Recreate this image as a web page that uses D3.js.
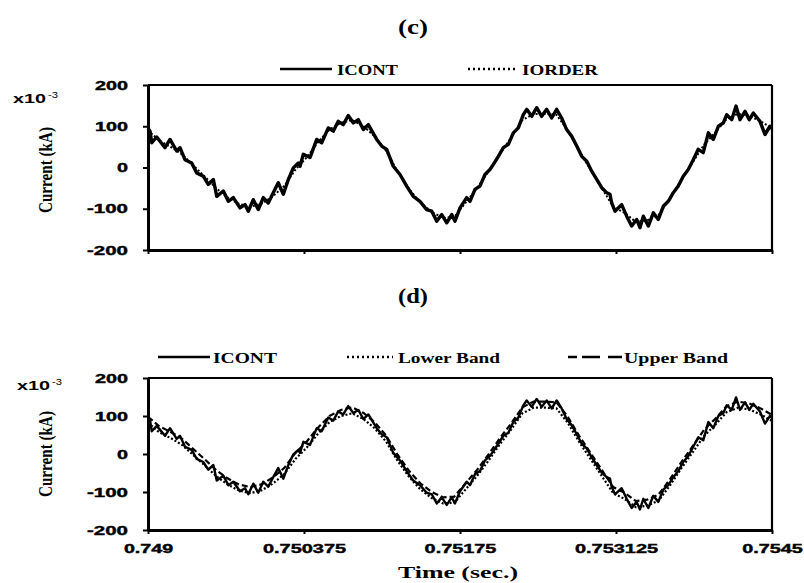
<!DOCTYPE html>
<html><head><meta charset="utf-8">
<script src="https://cdn.jsdelivr.net/npm/d3@7/dist/d3.min.js"></script>
<style>html,body{margin:0;padding:0;background:#fff;}svg{display:block;}</style>
</head><body>
<svg id="chart" width="804" height="583"></svg>
<script>
// ---- data (time in ms, current in x10^-3 kA) ----
const icontT = [749.000,749.018,749.033,749.077,749.150,749.194,749.253,749.282,749.326,749.385,
749.429,749.487,749.531,749.576,749.606,749.664,749.708,749.752,749.811,749.855,
749.884,749.928,749.972,750.016,750.060,750.104,750.148,750.193,750.237,750.281,
750.325,750.340,750.369,750.428,750.487,750.531,750.589,750.633,750.677,750.721,
750.765,750.810,750.854,750.898,750.942,751.016,751.060,751.104,751.162,751.221,
751.280,751.338,751.397,751.456,751.501,751.545,751.589,751.633,751.677,751.706,
751.750,751.809,751.838,751.882,751.926,751.970,752.014,752.043,752.088,752.132,
752.176,752.220,752.264,752.308,752.338,752.382,752.426,752.470,752.514,752.558,
752.602,752.646,752.690,752.734,752.779,752.823,752.867,752.911,752.955,752.999,
753.043,753.072,753.087,753.116,753.175,753.219,753.263,753.307,753.336,753.366,
753.410,753.454,753.498,753.542,753.586,753.630,753.674,753.718,753.762,753.806,
753.850,753.894,753.939,753.983,754.027,754.071,754.101,754.145,754.183,754.218,
754.262,754.300,754.335,754.394,754.438,754.482,754.500];
const icontV = [95,88,60,74,48,68,40,48,19,11,
-13,-21,-41,-29,-70,-57,-82,-73,-98,-90,
-106,-78,-102,-73,-86,-61,-37,-65,-29,-1,
11,3,32,24,68,60,96,88,112,104,
126,108,116,92,104,68,52,44,3,-17,
-45,-70,-82,-102,-106,-130,-114,-134,-114,-130,
-98,-73,-82,-53,-45,-17,-5,7,27,48,
56,84,96,128,141,124,145,124,141,120,
141,120,92,76,52,27,15,-9,-29,-49,
-61,-65,-86,-106,-90,-118,-142,-126,-146,-118,
-142,-110,-126,-94,-82,-61,-45,-21,-5,19,
44,36,84,68,100,108,128,116,149,116,
136,116,132,112,80,100,95];
const orderT = [749.0,749.1,749.2,749.3,749.4,749.5,749.6,749.7,749.8,749.9,
750.0,750.1,750.2,750.3,750.4,750.5,750.6,750.7,750.8,750.9,
751.0,751.1,751.2,751.3,751.4,751.5,751.6,751.7,751.8,751.9,
752.0,752.1,752.2,752.3,752.4,752.5,752.6,752.7,752.8,752.9,
753.0,753.1,753.2,753.3,753.4,753.5,753.6,753.7,753.8,753.9,
754.0,754.1,754.2,754.3,754.4,754.5];
const iorderV = [90,65,50,32,5,-22,-50,-72,-88,-95,
-88,-70,-45,-5,25,62,92,108,115,100,
75,40,-10,-52,-85,-108,-122,-120,-85,-50,
-10,33,72,115,130,130,128,90,40,-5,
-50,-95,-110,-132,-128,-115,-75,-30,12,55,
85,118,130,125,112,95];
const lowerV = [82,57,42,24,-3,-30,-58,-80,-96,-103,
-96,-78,-53,-13,17,54,84,100,107,92,
67,32,-18,-60,-93,-116,-130,-128,-93,-58,
-18,25,64,107,122,122,120,82,32,-13,
-58,-103,-118,-140,-136,-123,-83,-38,4,47,
77,110,122,117,104,87];
const upperV = [98,73,58,40,13,-14,-42,-64,-80,-87,
-80,-62,-37,3,33,70,100,116,123,108,
83,48,-2,-44,-77,-100,-114,-112,-77,-42,
-2,41,80,123,138,138,136,98,48,3,
-42,-87,-102,-124,-120,-107,-67,-22,20,63,
93,126,138,133,120,103];
const xTickVals = [0.749, 0.750375, 0.75175, 0.753125, 0.7545];
const xTickLabels = ["0.749", "0.750375", "0.75175", "0.753125", "0.7545"];
const yTickVals = [-200, -100, 0, 100, 200];
const yTickLabels = ["-200", "-100", "0", "100", "200"];

// ---- drawing ----
const svg = d3.select("#chart");
const SERIF = "'Liberation Serif','Times New Roman',serif";
const SANS = "'Liberation Sans',Arial,sans-serif";

const x = d3.scaleLinear().domain([0.749, 0.7545]).range([148, 772]);
const panels = [
  {id: "c", top: 85, bottom: 250, labels: false, title: "(c)", titleY: 34,
   legendY: 70, yLabelY: 170, expY: 103},
  {id: "d", top: 378, bottom: 530, labels: true, title: "(d)", titleY: 303,
   legendY: 358, yLabelY: 454, expY: 390}
];

function labelWidth(s, digit) {
  let w = 0;
  for (const ch of s) w += (ch === "-") ? 8 : (ch === ".") ? 4 : digit;
  return w;
}

const ptsC = icontT.map((t, i) => [t / 1000, icontV[i]]);
const ptsO = orderT.map((t, i) => [t / 1000, iorderV[i]]);
const ptsL = orderT.map((t, i) => [t / 1000, lowerV[i]]);
const ptsU = orderT.map((t, i) => [t / 1000, upperV[i]]);

panels.forEach(p => {
  const y = d3.scaleLinear().domain([-200, 200]).range([p.bottom, p.top]);
  const g = svg.append("g");
  const line = d3.line().x(d => x(d[0])).y(d => y(d[1]));

  // title
  g.append("text").attr("x", 413).attr("y", p.titleY).attr("text-anchor", "middle")
    .attr("font-family", SERIF).attr("font-weight", "bold").attr("font-size", 21)
    .attr("textLength", 30).attr("lengthAdjust", "spacingAndGlyphs").text(p.title);

  // frame top / right
  g.append("line").attr("x1", x.range()[0]).attr("x2", x.range()[1])
    .attr("y1", y(200)).attr("y2", y(200)).attr("stroke", "#000").attr("stroke-width", 2.2);
  g.append("line").attr("x1", x.range()[1]).attr("x2", x.range()[1])
    .attr("y1", y(200)).attr("y2", y(-200)).attr("stroke", "#000").attr("stroke-width", 2.2);

  // series
  if (p.id === "c") {
    g.append("path").datum(ptsO).attr("d", line).attr("fill", "none")
      .attr("stroke", "#000").attr("stroke-width", 2).attr("stroke-dasharray", "2,2");
    g.append("path").datum(ptsC).attr("d", line).attr("fill", "none")
      .attr("stroke", "#000").attr("stroke-width", 3.4).attr("stroke-linejoin", "round");
  } else {
    g.append("path").datum(ptsC).attr("d", line).attr("fill", "none")
      .attr("stroke", "#000").attr("stroke-width", 2.4).attr("stroke-linejoin", "round");
    g.append("path").datum(ptsL).attr("d", line).attr("fill", "none")
      .attr("stroke", "#000").attr("stroke-width", 2.2).attr("stroke-dasharray", "2,2");
    g.append("path").datum(ptsU).attr("d", line).attr("fill", "none")
      .attr("stroke", "#000").attr("stroke-width", 2.2).attr("stroke-dasharray", "6,3");
  }

  // left axis
  const ya = g.append("g").attr("transform", `translate(${x.range()[0]},0)`)
    .call(d3.axisLeft(y).tickValues(yTickVals).tickSize(5).tickPadding(15).tickSizeOuter(0)
      .tickFormat((d, i) => yTickLabels[i]));
  ya.select(".domain").attr("stroke-width", 3);
  ya.selectAll(".tick line").attr("stroke-width", 2);
  ya.selectAll(".tick text").attr("font-family", SANS).attr("font-weight", "bold")
    .attr("font-size", 12.5).attr("fill", "#000").attr("stroke", "#000").attr("stroke-width", 0.4)
    .attr("textLength", function () { return labelWidth(this.textContent, 11); })
    .attr("lengthAdjust", "spacingAndGlyphs");

  // bottom axis
  const xa = g.append("g").attr("transform", `translate(0,${p.bottom})`)
    .call(d3.axisBottom(x).tickValues(xTickVals).tickSize(4).tickSizeOuter(0)
      .tickFormat((d, i) => p.labels ? xTickLabels[i] : ""));
  xa.select(".domain").attr("stroke-width", 3);
  xa.selectAll(".tick line").attr("stroke-width", 2);
  xa.selectAll(".tick text").attr("font-family", SANS).attr("font-weight", "bold")
    .attr("font-size", 12.5).attr("fill", "#000").attr("stroke", "#000").attr("stroke-width", 0.4)
    .attr("y", 23).attr("dy", 0)
    .each(function () {
      if (this.textContent) d3.select(this)
        .attr("textLength", labelWidth(this.textContent, 11.3))
        .attr("lengthAdjust", "spacingAndGlyphs");
    });

  // y label
  g.append("text").attr("transform", `translate(52,${p.yLabelY}) rotate(-90)`)
    .attr("text-anchor", "middle").attr("font-family", SERIF).attr("font-weight", "bold")
    .attr("font-size", 18).attr("textLength", 86).attr("lengthAdjust", "spacingAndGlyphs")
    .text("Current (kA)");
  const ex = p.id === "c" ? 13 : 17;
  g.append("text").attr("x", ex).attr("y", p.expY).attr("font-family", SANS)
    .attr("font-weight", "bold").attr("font-size", 12).attr("textLength", 33)
    .attr("lengthAdjust", "spacingAndGlyphs").text("x10");
  g.append("text").attr("x", ex + 35).attr("y", p.expY - 5).attr("font-family", SANS)
    .attr("font-size", 9).attr("textLength", 10)
    .attr("lengthAdjust", "spacingAndGlyphs").text("-3");

  // legend
  const leg = p.id === "c"
    ? [{x1: 280, x2: 332, dash: null, tx: 337, label: "ICONT", w: 61},
       {x1: 468, x2: 518, dash: "2,3", tx: 522, label: "IORDER", w: 76}]
    : [{x1: 158, x2: 210, dash: null, tx: 213, label: "ICONT", w: 64},
       {x1: 347, x2: 393, dash: "2,3", tx: 398, label: "Lower Band", w: 102},
       {x1: 568, x2: 622, dash: "9 5 18 8 14", tx: 624, label: "Upper Band", w: 104}];
  leg.forEach(l => {
    g.append("line").attr("x1", l.x1).attr("x2", l.x2).attr("y1", p.legendY - 1).attr("y2", p.legendY - 1)
      .attr("stroke", "#000").attr("stroke-width", 2.4).attr("stroke-dasharray", l.dash);
    g.append("text").attr("x", l.tx).attr("y", p.legendY + 5).attr("font-family", SERIF)
      .attr("font-weight", "bold").attr("font-size", 15).attr("textLength", l.w)
      .attr("lengthAdjust", "spacingAndGlyphs").text(l.label);
  });
});

svg.append("text").attr("x", 458).attr("y", 578).attr("text-anchor", "middle")
  .attr("font-family", SERIF).attr("font-weight", "bold").attr("font-size", 17)
  .attr("textLength", 120).attr("lengthAdjust", "spacingAndGlyphs").text("Time (sec.)");
</script>
</body></html>
